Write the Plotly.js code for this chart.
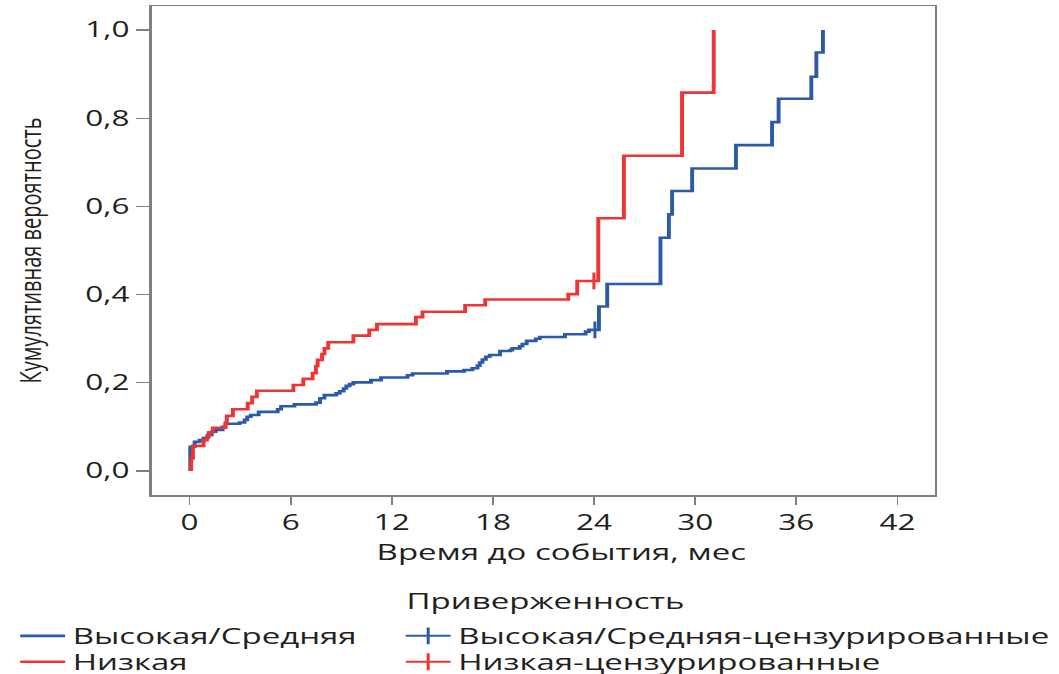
<!DOCTYPE html>
<html>
<head>
<meta charset="utf-8">
<script src="https://cdn.plot.ly/plotly-3.0.1.min.js"></script>
<style>
html,body{margin:0;padding:0;overflow:hidden;background:#fff;width:1059px;height:674px;}
#wrap{width:706px;height:674px;transform:scaleX(1.5);transform-origin:0 0;}
</style>
</head>
<body>
<div id="wrap"><div id="chart"></div></div>
<script>
// Time to event (months) and cumulative probability at each step
const highT = [0.04, 0.04, 0.3, 0.59, 0.83, 1.08, 1.31, 1.54, 1.96, 2.13, 2.96, 3.26, 3.42, 3.63, 4.1, 5.23, 5.43, 6.22, 7.5, 7.74, 8.0, 8.7, 8.91, 9.14, 9.3, 9.5, 9.72, 10.76, 11.36, 12.93, 13.23, 15.27, 16.29, 16.78, 17.08, 17.22, 17.38, 17.58, 17.81, 18.42, 19.02, 19.15, 19.59, 19.75, 20.0, 20.54, 20.78, 22.27, 23.5, 23.7, 24.29, 24.78, 27.94, 28.44, 28.63, 29.82, 32.42, 34.56, 34.95, 36.89, 37.19, 37.58];
const highV = [0, 0.055, 0.066, 0.07, 0.075, 0.082, 0.089, 0.093, 0.1, 0.107, 0.11, 0.116, 0.123, 0.127, 0.134, 0.14, 0.147, 0.151, 0.155, 0.165, 0.172, 0.176, 0.181, 0.187, 0.193, 0.197, 0.201, 0.206, 0.212, 0.217, 0.221, 0.226, 0.229, 0.233, 0.239, 0.246, 0.253, 0.259, 0.263, 0.272, 0.274, 0.278, 0.283, 0.288, 0.295, 0.3, 0.304, 0.31, 0.316, 0.32, 0.373, 0.424, 0.529, 0.582, 0.635, 0.686, 0.739, 0.791, 0.844, 0.894, 0.949, 1.0];
const lowT = [0.1, 0.1, 0.2, 0.83, 1.03, 1.14, 1.38, 2.13, 2.21, 2.57, 3.45, 3.71, 3.99, 6.16, 6.75, 7.3, 7.5, 7.6, 7.86, 8.0, 8.23, 9.72, 10.66, 11.12, 13.43, 13.82, 16.35, 17.54, 22.47, 23.0, 24.25, 25.77, 29.22, 31.1];
const lowV = [0, 0.029, 0.057, 0.07, 0.078, 0.088, 0.098, 0.11, 0.125, 0.14, 0.154, 0.168, 0.182, 0.195, 0.209, 0.222, 0.238, 0.252, 0.265, 0.278, 0.292, 0.307, 0.32, 0.333, 0.349, 0.361, 0.376, 0.389, 0.401, 0.431, 0.573, 0.715, 0.858, 1.0];
// Censored observations
const highCensT = [24.05];
const highCensV = [0.32];
const lowCensT = [23.99];
const lowCensV = [0.431];
// Labels
const seriesNames = ['Высокая/Средняя', 'Высокая/Средняя-цензурированные', 'Низкая', 'Низкая-цензурированные'];
const legendTitle = 'Приверженность';
const xTitle = 'Время до события, мес';
const yTitle = 'Кумулятивная вероятность';
const xTicks = [0, 6, 12, 18, 24, 30, 36, 42];
const yTicks = [0, 0.2, 0.4, 0.6, 0.8, 1.0];

const BLUE = '#2b5ba8', RED = '#ef3434';

const traces = [
  {x: highT, y: highV, name: seriesNames[0], type: 'scatter', mode: 'lines', legend: 'legend',
   line: {color: BLUE, width: 2.6, shape: 'hv'}},
  {x: highCensT, y: highCensV, name: seriesNames[1], type: 'scatter', mode: 'lines+markers', legend: 'legend2',
   line: {color: BLUE, width: 2}, marker: {symbol: 'line-ns', size: 12, color: BLUE, line: {color: BLUE, width: 2}}},
  {x: lowT, y: lowV, name: seriesNames[2], type: 'scatter', mode: 'lines', legend: 'legend3',
   line: {color: RED, width: 2.6, shape: 'hv'}},
  {x: lowCensT, y: lowCensV, name: seriesNames[3], type: 'scatter', mode: 'lines+markers', legend: 'legend4',
   line: {color: RED, width: 2}, marker: {symbol: 'line-ns', size: 12, color: RED, line: {color: RED, width: 2}}}
];

function leg(x, y) {
  return {orientation: 'v', xref: 'container', yref: 'container', x: x, xanchor: 'left', y: y, yanchor: 'top',
          font: {size: 22}, bgcolor: 'rgba(0,0,0,0)', borderwidth: 0};
}
const row1 = 0.0875, row2 = 0.049, col1 = 0.012, col2 = 0.376;

const layout = {
  width: 706, height: 674,
  margin: {l: 101, r: 83, t: 6, b: 179, autoexpand: false},
  paper_bgcolor: '#fff', plot_bgcolor: '#fff',
  separators: ', ',
  font: {family: '"Open Sans", "Noto Sans", sans-serif', color: '#231f20', size: 21},
  showlegend: true,
  xaxis: {
    range: [-2.26, 44.2], tickvals: xTicks, ticktext: xTicks.map(String),
    showline: true, mirror: true, linecolor: '#808080', linewidth: 1.5,
    ticks: 'outside', ticklen: 8, tickcolor: '#808080', tickwidth: 1.2,
    showgrid: false, zeroline: false,
    tickfont: {size: 21}
  },
  yaxis: {
    range: [-0.0544, 1.0544], tickvals: yTicks, tickformat: '.1f',
    showline: true, mirror: true, linecolor: '#808080', linewidth: 1.5,
    ticks: 'outside', ticklen: 9, tickcolor: '#808080', tickwidth: 1.2,
    showgrid: false, zeroline: false,
    tickfont: {size: 21}
  },
  legend: leg(col1, row1),
  legend2: leg(col2, row1),
  legend3: leg(col1, row2),
  legend4: leg(col2, row2),
  annotations: [
    {text: yTitle, xref: 'paper', yref: 'paper', x: -0.1552, y: 0.5, xanchor: 'center', yanchor: 'middle',
     textangle: -90, showarrow: false, font: {size: 20}},
    {text: xTitle, xref: 'paper', yref: 'paper', x: 0.523, y: -0.1145, xanchor: 'center', yanchor: 'middle',
     showarrow: false, font: {size: 22}},
    {text: legendTitle, xref: 'paper', yref: 'paper', x: 0.5025, y: -0.2147, xanchor: 'center', yanchor: 'middle',
     showarrow: false, font: {size: 22}}
  ]
};

Plotly.newPlot('chart', traces, layout, {staticPlot: true, displayModeBar: false});
</script>
</body>
</html>
